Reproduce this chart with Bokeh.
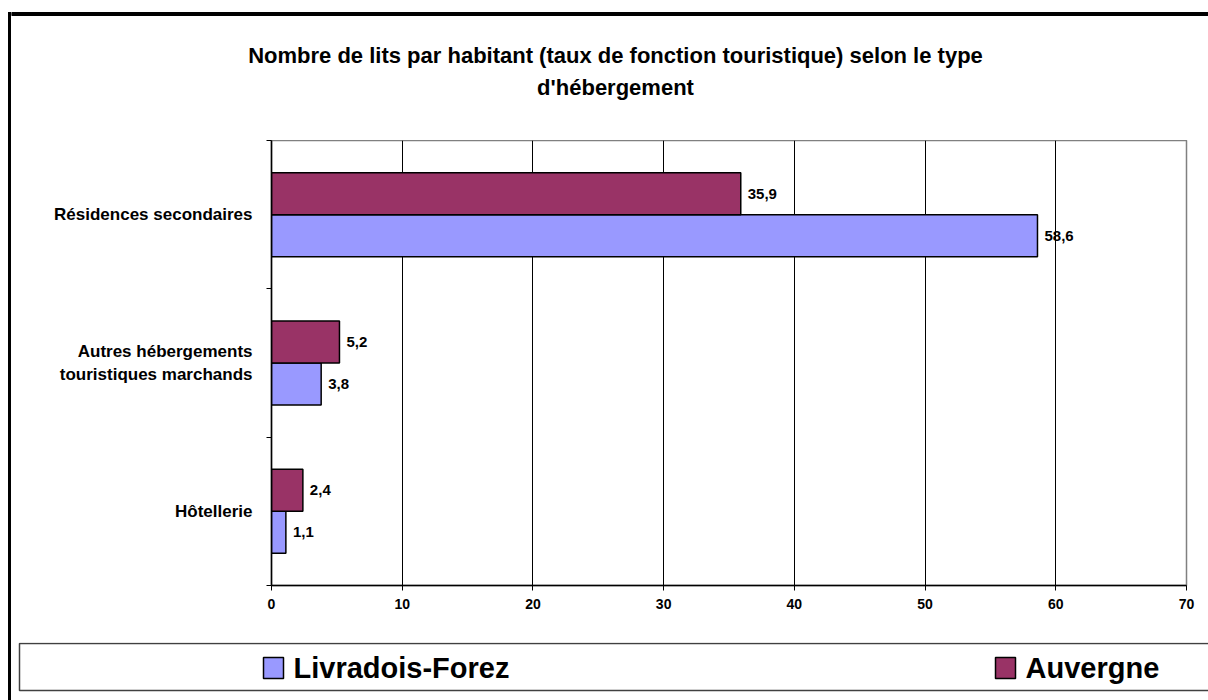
from bokeh.plotting import figure
from bokeh.layouts import column, row
from bokeh.models import Range1d, FixedTicker, ColumnDataSource, Div, Spacer
from bokeh.core.properties import value
from bokeh.embed import file_html
from bokeh.resources import INLINE

# ---- data ----
title_lines = ["Nombre de lits par habitant (taux de fonction touristique) selon le type",
               "d'hébergement"]
categories = ["Hôtellerie",
              "Autres hébergements\ntouristiques marchands",
              "Résidences secondaires"]
series_names = ["Livradois-Forez", "Auvergne"]
livradois = [1.1, 3.8, 58.6]
auvergne = [2.4, 5.2, 35.9]
x_ticks = [0, 10, 20, 30, 40, 50, 60, 70]

FONT = "Liberation Sans"
C_LF = "#9999FF"
C_AU = "#993366"
W = 1208
OX = 11          # width taken by the left margin + outer frame line
CW = W - OX      # width of the content column


def blank(w, h):
    f = figure(width=w, height=h, output_backend="svg", toolbar_location=None,
               x_range=Range1d(0, w), y_range=Range1d(h, 0),
               x_axis_type=None, y_axis_type=None, min_border=0)
    f.outline_line_color = None
    f.background_fill_color = "white"
    f.border_fill_color = "white"
    return f


# ---- top strip: outer frame top line + title ----
TOP_H = 140
top = blank(CW, TOP_H)
top.quad(left=[0], right=[CW + 10], top=[12], bottom=[15], color="black")
top.text(x=[615 - OX, 615 - OX], y=[55, 87], text=title_lines, text_align="center",
         text_baseline="middle", text_font=value(FONT), text_font_style="bold",
         text_font_size="22px", text_color="black")

# ---- chart ----
MID_H = 502
p = figure(width=CW, height=MID_H, output_backend="svg", toolbar_location=None,
           x_range=Range1d(0, 70), y_range=Range1d(0, 3),
           min_border_left=271 - OX, min_border_right=22,
           min_border_top=0, min_border_bottom=57)
p.background_fill_color = "white"
p.border_fill_color = "white"
p.outline_line_color = "#808080"
p.outline_line_width = 1.5

bh = 0.283


def fmt(v):
    return f"{v:.1f}".replace(".", ",")


centers = [i + 0.5 for i in range(len(categories))]
src_lf = ColumnDataSource(dict(y=[c - bh / 2 for c in centers], x=livradois,
                               lab=[fmt(v) for v in livradois]))
src_au = ColumnDataSource(dict(y=[c + bh / 2 for c in centers], x=auvergne,
                               lab=[fmt(v) for v in auvergne]))

p.xgrid.ticker = FixedTicker(ticks=x_ticks)
p.xgrid.grid_line_color = "black"
p.xgrid.grid_line_width = 1
p.ygrid.grid_line_color = None

p.hbar(y="y", right="x", left=0, height=bh, source=src_lf, fill_color=C_LF,
       line_color="black", line_width=1.5)
p.hbar(y="y", right="x", left=0, height=bh, source=src_au, fill_color=C_AU,
       line_color="black", line_width=1.5)

for src in (src_lf, src_au):
    p.text(x="x", y="y", text="lab", source=src, x_offset=7,
           text_baseline="middle", text_align="left",
           text_font=value(FONT), text_font_style="bold",
           text_font_size="15px", text_color="black")

p.xaxis.ticker = FixedTicker(ticks=x_ticks)
p.xaxis.axis_line_color = "black"
p.xaxis.axis_line_width = 1.5
p.xaxis.major_tick_out = 5
p.xaxis.major_tick_in = 0
p.xaxis.major_tick_line_color = "black"
p.xaxis.minor_tick_line_color = None
p.xaxis.major_label_standoff = 8
p.xaxis.major_label_text_font = FONT
p.xaxis.major_label_text_font_style = "bold"
p.xaxis.major_label_text_font_size = "14px"
p.xaxis.major_label_text_color = "black"

p.yaxis.ticker = FixedTicker(ticks=centers, minor_ticks=[0, 1, 2, 3])
p.yaxis.major_label_overrides = {c: lab for c, lab in zip(centers, categories)}
p.yaxis.axis_line_color = "black"
p.yaxis.axis_line_width = 1.5
p.yaxis.major_tick_line_color = None
p.yaxis.major_tick_out = 0
p.yaxis.major_tick_in = 0
p.yaxis.minor_tick_out = 5
p.yaxis.minor_tick_in = 0
p.yaxis.minor_tick_line_color = "black"
p.yaxis.major_label_standoff = 14
p.yaxis.major_label_text_font = FONT
p.yaxis.major_label_text_font_style = "bold"
p.yaxis.major_label_text_font_size = "17px"
p.yaxis.major_label_text_color = "black"

# ---- bottom strip: legend ----
BOT_H = 58
bot = blank(CW, BOT_H)
bot.quad(left=[19 - OX], right=[CW + 10], top=[1], bottom=[48], fill_color=None,
         line_color="#404040", line_width=1.5)
leg_x = [263 - OX, 995 - OX]
bot.quad(left=leg_x, right=[x + 20 for x in leg_x], top=[15, 15], bottom=[36, 36],
         fill_color=[C_LF, C_AU], line_color="black", line_width=1.5)
bot.text(x=[x + 30 for x in leg_x], y=[25.5, 25.5], text=series_names,
         text_align="left", text_baseline="middle", text_font=value(FONT),
         text_font_style="bold", text_font_size="29px", text_color="black")

# ---- outer frame left line ----
frame_left = column(Spacer(width=3, height=12, margin=0),
                    Div(width=3, height=700 - 12, text="", margin=0,
                        styles={"background-color": "black"}))

layout = row(Spacer(width=8, height=700, margin=0), frame_left,
             column(top, row(p), bot))
open("out.html", "w").write(file_html(layout, INLINE))
